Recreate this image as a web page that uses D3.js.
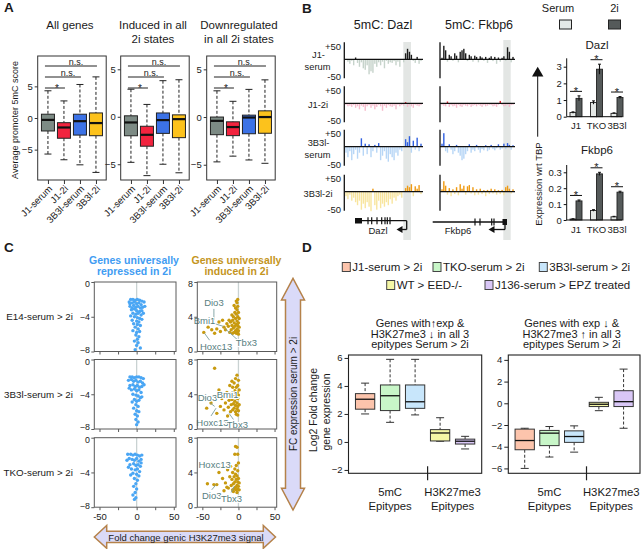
<!DOCTYPE html>
<html>
<head>
<meta charset="utf-8">
<script src="https://cdn.jsdelivr.net/npm/d3@7/dist/d3.min.js"></script>
<style>
html,body{margin:0;padding:0;background:#fff;}
svg{display:block;}
</style>
</head>
<body>
<script>
// ================= DATA =================
// Panel A : promoter 5mC score boxplots  [lowWhisker, Q1, median, Q3, highWhisker]
const groupsA = ["J1-serum","J1-2i","3B3l-serum","3B3l-2i"];
const titlesA = [["All genes"],["Induced in all","2i states"],["Downregulated","in all 2i states"]];
const statsAllGenes = [[-5.7,-2.05,-0.3,0.6,4.3],[-6.6,-3.2,-1.5,-0.74,2.7],[-7.4,-2.7,-0.5,0.6,5.3],[-8.6,-2.8,-0.8,0.8,6.5]];
const statsInduced  = [[-4.8,-2.0,-0.6,0.1,2.9],[-6.2,-3.1,-1.9,-1.0,1.3],[-5.0,-1.75,-0.35,0.4,3.8],[-5.9,-2.2,-0.25,0.2,3.9]];
const statsDownreg  = [[-4.7,-1.85,-0.4,0.0,2.75],[-4.1,-1.95,-1.05,-0.5,1.65],[-4.5,-1.75,-0.05,0.2,2.9],[-4.85,-1.7,0.0,0.65,3.9]];
const yDomainsA = [[-9.8,9.8],[-6.66,6.4],[-6.6,6.4]];
const yTicksA = [-5,0,5];
const sigA = [["n.s.",0,3],["n.s.",0,2],["*",0,1]];

// Panel B : 5mC tracks (signed CpG methylation change, -50..+50)
const trackLabels = [["J1-","serum"],["J1-2i"],["3B3l-","serum"],["3B3l-2i"]];
const dazlTracks = [
  [0,-8,-15,-5,-20,6,-12,-25,-10,-30,-35,-20,-50,-40,-45,-15,-25,-10,-20,-8,-30,-5,-15,-10,-12,-6,-20,-8,-25,0,-10,20,35,25,15,-5,-12,8,-15,-6],
  [-5,-10,-8,-12,-6,-15,-10,-20,-8,-12,-25,-10,-6,-15,-8,-20,-12,-5,-10,-25,-8,-15,-6,-10,-12,-8,-20,-5,-10,-6,-8,4,-12,-6,-10,-15,-5,-8,-10,-6],
  [-20,-35,-15,-45,-25,-10,-40,-20,28,-30,10,-25,8,-35,-15,6,-20,12,-45,-30,-15,-40,-50,-25,-35,-45,-20,-30,-10,-15,0,25,15,35,-20,20,-10,30,-15,10],
  [-15,-25,-10,-30,-20,-35,-45,-30,-60,-40,-55,-35,-50,-65,10,-45,-60,-30,-55,-40,-50,-35,-45,-25,-40,-20,-30,-15,-10,-20,0,12,20,15,25,-15,18,10,22,-8]
];
const fkbp6Tracks = [
  [5,45,30,-8,15,10,-5,20,12,-10,25,30,35,20,-6,15,10,-8,12,8,-10,10,6,-5,8,-12,5,10,-6,8,-15,6,-8,5,10,-5,40,25,-10,8],
  [-5,-8,-10,6,-12,-6,-10,-8,-15,-5,-10,-12,-6,-8,-10,-5,-12,-8,-6,-10,-5,-8,-12,-6,-10,-8,-5,-6,-10,-8,-12,-5,8,-6,-10,-8,-5,-12,-6,-5],
  [10,45,-15,-20,8,-10,-25,-15,6,-20,-30,-45,-40,-25,-15,8,-20,-10,-15,6,-10,-20,-8,-12,5,-15,-10,6,-8,-12,-5,8,-10,-6,10,-8,12,6,-10,5],
  [8,35,20,-10,12,-15,8,-8,15,-12,25,10,20,-10,18,22,-6,15,-12,8,-10,10,-8,5,-15,6,-8,10,-6,8,-10,5,-8,6,-12,15,20,10,-6,8]
];
// Panel B : qPCR expression wrt TBP
const qpcrCats = ["J1","TKO","3B3l"];
const dazlSerum = [0.25,0.85,0.2],  dazlSerumErr = [0.04,0.1,0.03];
const dazl2i    = [1.1,2.85,1.15],  dazl2iErr    = [0.15,0.3,0.06];
const fkbpSerum = [0.006,0.06,0.02], fkbpSerumErr = [0.002,0.005,0.003];
const fkbp2i    = [0.12,0.29,0.175], fkbp2iErr    = [0.006,0.01,0.006];
const dazlTicks = [0,1,2,3];
const fkbpTicks = [0,0.1,0.2,0.3];

// Panel C : FC genic H3K27me3 (x) vs FC expression (y)
const rowNamesC = ["E14-serum > 2i","3B3l-serum > 2i","TKO-serum > 2i"];
const repressedE14 = [[-8,-2.0],[-5,-2.0],[-2,-2.1],[1,-2.0],[4,-2.1],[7,-2.2],[-10,-2.3],[-6,-2.4],[-3,-2.3],[0,-2.5],[3,-2.4],[6,-2.6],[10,-2.3],[-9,-2.8],[-4,-2.7],[-1,-2.9],[2,-2.8],[5,-3.0],[8,-2.9],[-7,-3.2],[-3,-3.1],[0,-3.3],[4,-3.4],[7,-3.3],[-5,-3.6],[-1,-3.7],[2,-3.6],[6,-3.8],[-8,-3.9],[-3,-4.0],[1,-4.1],[4,-4.2],[-6,-4.4],[0,-4.5],[3,-4.6],[7,-4.3],[-4,-4.8],[1,-4.9],[5,-5.0],[-2,-5.2],[2,-5.4],[-5,-5.6],[0,-5.8],[4,-5.7],[-1,-6.1],[3,-6.3],[1,-6.6],[-3,-6.8],[2,-7.0],[0,-7.3],[5,-7.6],[-2,-7.8],[-6,-3.0],[9,-3.6],[-9,-2.5],[11,-2.8]];
const repressed3B3l = [[-9,-2.0],[-6,-2.0],[-3,-2.1],[0,-2.0],[3,-2.0],[6,-2.1],[9,-2.2],[-11,-2.4],[-7,-2.3],[-4,-2.5],[-1,-2.4],[2,-2.6],[5,-2.5],[8,-2.7],[-9,-3.0],[-5,-2.9],[-2,-3.1],[1,-3.0],[4,-3.2],[7,-3.1],[-7,-3.5],[-3,-3.4],[0,-3.6],[3,-3.5],[6,-3.8],[-5,-4.0],[-1,-4.1],[2,-4.2],[5,-4.4],[-3,-4.6],[0,-4.8],[3,-4.7],[-6,-4.9],[-1,-5.2],[2,-5.4],[-4,-5.6],[0,-5.9],[3,-6.0],[-2,-6.3],[1,-6.5],[-1,-6.9],[2,-7.2],[0,-7.5],[10,-2.9],[-10,-3.3],[7,-4.3]];
const repressedTKO = [[-12,-1.9],[-8,-1.9],[-5,-2.0],[-2,-1.9],[1,-2.0],[4,-2.1],[7,-2.0],[-13,-2.6],[-10,-2.4],[-6,-2.5],[-3,-2.6],[0,-2.4],[3,-2.7],[6,-2.5],[-9,-3.1],[-4,-3.0],[-1,-3.2],[2,-3.1],[5,-3.3],[-7,-3.6],[-2,-3.7],[1,-3.6],[4,-3.9],[-5,-4.1],[0,-4.2],[3,-4.4],[-3,-4.7],[1,-4.9],[-1,-5.3],[-4,-5.6],[0,-5.9],[-2,-6.3],[-5,-6.6],[-1,-6.9],[-3,-7.1],[6,-2.9],[-11,-3.4],[-8,-4.3]];
const inducedE14 = [[-48,2.2],[-42,2.8],[-37,2.5],[-33,2.1],[-30,2.6],[-27,3.4],[-25,2.3],[-22,3.6],[-20,2.8],[-18,2.5],[-16,3.2],[-14,2.9],[-13,3.6],[-12,2.2],[-10,2.5],[-9,3.0],[-8,2.1],[-8,3.6],[-7,2.7],[-7,4.0],[-6,2.2],[-6,3.3],[-5,2.9],[-5,4.5],[-4,2.4],[-4,3.8],[-4,5.0],[-3,2.1],[-3,3.1],[-3,4.3],[-2,2.6],[-2,3.5],[-2,4.8],[-2,5.6],[-1,2.2],[-1,3.0],[-1,4.0],[-1,5.2],[0,2.4],[0,3.3],[0,4.5],[0,2.0],[1,2.8],[1,3.8],[-9,4.2],[-11,3.4],[-6,5.3],[-3,5.8],[-1,6.0]];
const induced3B3l = [[-33,7.0],[-44,2.4],[-38,3.0],[-30,1.8],[-27,4.5],[-25,2.6],[-23,3.5],[-20,2.2],[-18,3.0],[-16,4.2],[-14,2.5],[-13,3.3],[-12,5.0],[-11,2.0],[-10,2.8],[-10,4.0],[-9,3.4],[-8,2.2],[-8,4.8],[-7,2.9],[-7,3.8],[-6,2.4],[-6,5.3],[-5,3.2],[-5,4.4],[-4,2.0],[-4,2.7],[-4,5.8],[-3,3.6],[-3,4.8],[-2,2.3],[-2,3.0],[-2,4.2],[-2,6.2],[-1,2.6],[-1,3.5],[-1,5.0],[0,2.1],[0,3.9],[0,5.6],[1,2.8],[1,4.5],[-3,1.7],[-1,1.6],[-9,5.5],[-15,1.5]];
const inducedTKO = [[-4,7.0],[-2,6.9],[-5,6.1],[-1,6.1],[0,5.1],[-43,2.7],[-34,2.6],[-30,2.6],[-27,4.0],[-22,3.3],[-20,1.9],[-18,2.8],[-15,4.3],[-14,2.2],[-12,3.5],[-11,4.7],[-10,2.5],[-9,3.2],[-8,2.0],[-8,4.0],[-7,2.7],[-6,3.5],[-6,2.1],[-5,4.4],[-5,2.9],[-4,2.3],[-4,3.8],[-3,2.0],[-3,3.2],[-3,4.8],[-2,2.5],[-2,3.6],[-1,2.1],[-1,2.9],[-1,4.2],[0,2.4],[0,3.3],[1,2.0],[1,2.8],[-7,1.8],[-2,1.7],[-16,2.3]];
// gene call-outs: text at (tx,ty), leader from (x1,y1) to (x2,y2) in data units
const geneLabelsC = [
  [{gene:"Dio3",tx:-34,ty:5.6,x1:-34,y1:4.9,x2:-34,y2:3.6},{gene:"Bmi1",tx:-47,ty:3.6,x1:-37,y1:3.3,x2:-21,y2:2.9},{gene:"Hoxc13",tx:-31,ty:0.55,x1:-40,y1:1.3,x2:-47,y2:2.1},{gene:"Tbx3",tx:11,ty:1.0,x1:-2,y1:1.4,x2:-18,y2:2.6}],
  [{gene:"Dio3",tx:-43,ty:3.6,x1:-39,y1:3.0,x2:-33,y2:2.6},{gene:"Bmi1",tx:-15,ty:3.9},{gene:"Hoxc13",tx:-36,ty:0.75,x1:-38,y1:1.5,x2:-31,y2:2.4},{gene:"Tbx3",tx:-1.5,ty:0.45,x1:-7,y1:1.1,x2:-13,y2:1.8}],
  [{gene:"Hoxc13",tx:-33,ty:4.85,x1:-22,y1:4.6,x2:-11,y2:4.7},{gene:"Dio3",tx:-37,ty:1.3,x1:-37,y1:2.0,x2:-31,y2:2.6},{gene:"Tbx3",tx:-9.5,ty:1.0,x1:-10,y1:1.7,x2:-6,y2:2.4}]
];
const xTicksC = [-50,-25,0,25,50];
const xTickLabelsC = [-50,0,50];

// Panel D : Log2 fold change gene expression
const legendD = ["J1-serum > 2i","TKO-serum > 2i","3B3l-serum > 2i","WT > EED-/-","J136-serum > EPZ treated"];
const statsUpD   = [[2.0,2.34,3.05,3.45,4.2],[1.4,2.24,3.3,4.07,5.9],[1.93,2.4,2.87,4.07,5.9],[0.05,0.07,0.64,0.88,1.73],[-0.5,-0.15,0.05,0.2,0.4]];
const statsDownD = [[-6.0,-4.28,-3.43,-2.38,-2.3],[-4.95,-3.9,-2.75,-2.5,-2.14],[-4.5,-3.6,-3.06,-2.54,-2.08],[-0.68,-0.3,-0.09,0.09,0.55],[-2.3,-0.3,0.15,1.16,3.15]];
const titleUpD   = ["Genes with\u2191exp &","H3K27me3 \u2193 in all 3","epitypes Serum > 2i"];
const titleDownD = ["Genes with exp \u2193 &","H3K27me3 \u2191  in all 3","epitypes Serum > 2i"];
const ticksUpD = [-2,0,2,4,6], ticksDownD = [-6,-4,-2,0,2,4];
const domainUpD = [-2.24,6.21], domainDownD = [-6.45,4.45];

// ================= STYLE =================
const FONT = '"Liberation Sans", Arial, Helvetica, sans-serif';
const colorsA = ["#7d8b85","#f2243f","#3c72e6","#fcc21c"];
const trackPos = ["#1c1c1c","#e3202c","#2f5fe0","#ef9a12"];
const trackNeg = ["#c6d3cb","#f6bccd","#b7d6f6","#f8e59e"];
const colorsD = ["#fcc4ac","#c8f6c8","#c8e6fb","#f5f7a6","#d9c7f6"];

// ================= HELPERS =================
const svg = d3.select("body").append("svg").attr("width",643).attr("height",549).attr("font-family",FONT);
function T(g,x,y,s,o={}){
  const t=g.append("text").attr("x",x).attr("y",y).text(s)
    .attr("font-size",o.size||10).attr("fill",o.fill||"#1a1a1a")
    .attr("text-anchor",o.anchor||"middle").attr("font-family",FONT);
  if(o.weight) t.attr("font-weight",o.weight);
  if(o.rot!=null) t.attr("transform",`rotate(${o.rot},${x},${y})`);
  if(o.halo) t.attr("stroke","#fff").attr("stroke-width",o.halo).attr("paint-order","stroke");
  return t;
}
function L(g,x1,y1,x2,y2,stroke,w,dash){
  const l=g.append("line").attr("x1",x1).attr("y1",y1).attr("x2",x2).attr("y2",y2)
    .attr("stroke",stroke||"#222").attr("stroke-width",w||1);
  if(dash) l.attr("stroke-dasharray",dash);
  return l;
}
function styleAxis(a,size,color){
  a.attr("font-family",FONT).attr("font-size",size);
  a.selectAll("text").attr("fill","#1a1a1a");
  a.selectAll("line").attr("stroke",color||"#333");
  a.select(".domain").remove();
  return a;
}
function drawBox(g,cx,s,y,bw,capW,fill,medW,stroke){
  const st=stroke||"#222";
  L(g,cx,y(s[4]),cx,y(s[3]),st,1,"3,2");
  L(g,cx,y(s[1]),cx,y(s[0]),st,1,"3,2");
  [s[0],s[4]].forEach(v=>L(g,cx-capW/2,y(v),cx+capW/2,y(v),st,1));
  g.append("rect").attr("x",cx-bw/2).attr("y",y(s[3])).attr("width",bw)
    .attr("height",Math.max(0.5,y(s[1])-y(s[3]))).attr("fill",fill).attr("stroke",st).attr("stroke-width",1);
  L(g,cx-bw/2,y(s[2]),cx+bw/2,y(s[2]),"#111",medW);
}

// Panel letters
T(svg,4,12,"A",{size:13.5,weight:"bold",anchor:"start"});
T(svg,302,12.5,"B",{size:13.5,weight:"bold",anchor:"start"});
T(svg,4,252,"C",{size:13.5,weight:"bold",anchor:"start"});
T(svg,302,252,"D",{size:13.5,weight:"bold",anchor:"start"});

// ================= PANEL A =================
(function(){
  const g=svg.append("g");
  const statsA=[statsAllGenes,statsInduced,statsDownreg];
  const lefts=[37.7,120.7,206.7], fw=68.5, top=56, bot=180, sigY=[66,77,88];
  statsA.forEach((stats,k)=>{
    const x0=lefts[k], x1=x0+fw;
    const y=d3.scaleLinear().domain(yDomainsA[k]).range([bot,top]);
    const x=d3.scalePoint().domain(groupsA).range([x0,x1]).padding(0.64);
    titlesA[k].forEach((t,j)=>T(g,(x0+x1)/2-2,29+j*13.5,t,{size:11.5}));
    g.append("rect").attr("x",x0).attr("y",top).attr("width",fw).attr("height",bot-top)
      .attr("fill","none").attr("stroke","#333");
    styleAxis(g.append("g").attr("transform",`translate(${x0},0)`)
      .call(d3.axisLeft(y).tickValues(yTicksA).tickSize(3).tickPadding(2)),9.5);
    styleAxis(g.append("g").attr("transform",`translate(0,${bot})`)
      .call(d3.axisBottom(x).tickSize(4).tickFormat("")),9);
    groupsA.forEach(gr=>{
      g.append("text").attr("transform",`translate(${x(gr)+2.5},${bot+7}) rotate(-45)`)
        .attr("text-anchor","end").attr("dy","0.35em").attr("font-size",9.5)
        .attr("font-family",FONT).attr("fill","#1a1a1a").text(gr);
    });
    stats.forEach((s,i)=>drawBox(g,x(groupsA[i]),s,y,13,7,colorsA[i],2.2));
    sigA.forEach((sg,j)=>{
      const a=x(groupsA[sg[1]]), b=x(groupsA[sg[2]]), yy=sigY[j];
      L(g,a-3,yy,b+1,yy,"#222",1);
      if(sg[0]==="*") T(g,(a+b)/2+1,yy+4,"*",{size:10});
      else T(g,(a+b)/2+4,yy-1.5,sg[0],{size:9});
    });
  });
  g.append("text").attr("transform","translate(18,120) rotate(-90)").attr("text-anchor","middle")
    .attr("font-size",9).attr("font-family",FONT).attr("fill","#1a1a1a").text("Average promoter 5mC score");
})();

// ================= PANEL B =================
(function(){
  const g=svg.append("g");
  const rangeX=[[346,421],[442,513]], axisX=[344.3,440];
  const base=[59.3,103.3,146.7,191.7];
  g.append("rect").attr("x",403.3).attr("y",42).attr("width",7.7).attr("height",198).attr("fill","#e3e6e4");
  g.append("rect").attr("x",503.3).attr("y",40).attr("width",7.4).attr("height",200).attr("fill","#e3e6e4");
  T(g,383,29,"5mC: Dazl",{size:12.5});
  T(g,479,29,"5mC: Fkbp6",{size:12.5});
  [dazlTracks,fkbp6Tracks].forEach((tracks,gi)=>{
    const x=d3.scaleLinear().domain([0,tracks[0].length-1]).range(rangeX[gi]);
    tracks.forEach((vals,ri)=>{
      const b=base[ri];
      const y=d3.scaleLinear().domain([-50,50]).range([b+15,b-15]);
      g.selectAll(null).data(vals.map((v,i)=>({v,i})).filter(d=>d.v!==0)).enter().append("rect")
        .attr("x",d=>x(d.i)-0.7).attr("width",1.4)
        .attr("y",d=>Math.min(y(d.v),y(0))).attr("height",d=>Math.abs(y(d.v)-y(0)))
        .attr("fill",d=>d.v>0?trackPos[ri]:trackNeg[ri]);
      L(g,axisX[gi],b-17,axisX[gi],b+19,"#111",1.3);
      L(g,axisX[gi],y(0),rangeX[gi][1]+2,y(0),"#111",1.3);
      if(gi===0){
        T(g,341,y(50)+5.5,"+50",{size:9.5,anchor:"end"});
        T(g,341,y(-50)+6,"-50",{size:9.5,anchor:"end"});
      }
    });
  });
  trackLabels.forEach((ls,ri)=>{
    if(ls.length===2){ T(g,318.5,base[ri]-1,ls[0],{size:9.3}); T(g,317.5,base[ri]+10.8,ls[1],{size:9.3}); }
    else T(g,318,base[ri]+5,ls[0],{size:9.3});
  });
  // gene models
  const gm=g.append("g");
  // Dazl
  L(gm,355,220.7,406.7,220.7,"#111",1.3);
  gm.append("rect").attr("x",355).attr("y",218).attr("width",7).attr("height",5.5).attr("fill","#111");
  [368,371.7,377,381.7,385,387.3,390].forEach(xx=>L(gm,xx,217.2,xx,224.2,"#111",1.2));
  L(gm,406.7,220.7,406.7,229.5,"#111",1.3);
  L(gm,406.7,229.5,401,229.5,"#111",1.3);
  gm.append("path").attr("d","M396.5,229.5 L402.5,226 L402.5,233 Z").attr("fill","#111");
  T(gm,378,234,"Dazl",{size:9.5});
  // Fkbp6
  L(gm,432.7,222,505,222,"#111",1.3);
  [475,480,491.7,494].forEach(xx=>L(gm,xx,218.5,xx,225.5,"#111",1.2));
  gm.append("rect").attr("x",502.5).attr("y",219).attr("width",4.5).attr("height",6).attr("fill","#111");
  L(gm,505,222,505,229.5,"#111",1.3);
  L(gm,505,229.5,494,229.5,"#111",1.3);
  gm.append("path").attr("d","M488.5,229.5 L494.5,226 L494.5,233 Z").attr("fill","#111");
  T(gm,458,234,"Fkbp6",{size:9.5});

  // qPCR legend
  T(g,558,12,"Serum",{size:11});
  T(g,614.5,12,"2i",{size:11});
  g.append("rect").attr("x",559.5).attr("y",20).attr("width",12).attr("height",9).attr("fill","#e4e8e6").attr("stroke","#222");
  g.append("rect").attr("x",608.5).attr("y",20).attr("width",12).attr("height",9).attr("fill","#555a5a").attr("stroke","#222");
  // arrow + label
  L(g,537.7,75,537.7,136.7,"#111",1);
  g.append("path").attr("d","M537.7,66.7 L532,76.5 L543.4,76.5 Z").attr("fill","#111");
  g.append("text").attr("transform","translate(541.5,184) rotate(-90)").attr("text-anchor","middle")
    .attr("font-size",9.5).attr("font-family",FONT).attr("fill","#1a1a1a").text("Expression wrt TBP");

  const qx=d3.scalePoint().domain(qpcrCats).range([576,617]);
  const charts=[
    {title:"Dazl",ty:49,y:d3.scaleLinear().domain([0,3]).range([116.7,66.7]),top:58.3,ticks:dazlTicks,fmt:d3.format("d"),
     s:dazlSerum,se:dazlSerumErr,t:dazl2i,te:dazl2iErr},
    {title:"Fkbp6",ty:154,y:d3.scaleLinear().domain([0,0.3]).range([220,172.3]),top:165,ticks:fkbpTicks,fmt:d=>d===0?"0":d3.format(".1f")(d),
     s:fkbpSerum,se:fkbpSerumErr,t:fkbp2i,te:fkbp2iErr}
  ];
  charts.forEach(c=>{
    T(g,597,c.ty,c.title,{size:11.5});
    const y=c.y, y0=y(0);
    qpcrCats.forEach((cat,i)=>{
      const cx=qx(cat);
      g.append("rect").attr("x",cx-6).attr("y",y(c.s[i])).attr("width",6).attr("height",y0-y(c.s[i]))
        .attr("fill","#e4e8e6").attr("stroke","#222").attr("stroke-width",0.9);
      g.append("rect").attr("x",cx).attr("y",y(c.t[i])).attr("width",6).attr("height",y0-y(c.t[i]))
        .attr("fill","#555a5a").attr("stroke","#222").attr("stroke-width",0.9);
      L(g,cx-3,y(c.s[i]-c.se[i]),cx-3,y(c.s[i]+c.se[i]),"#111",1.1);
      L(g,cx-4.5,y(c.s[i]+c.se[i]),cx-1.5,y(c.s[i]+c.se[i]),"#111",1);
      L(g,cx+3,y(c.t[i]-c.te[i]),cx+3,y(c.t[i]+c.te[i]),"#111",1.1);
      L(g,cx+1.5,y(c.t[i]+c.te[i]),cx+4.5,y(c.t[i]+c.te[i]),"#111",1);
      const sy=y(c.t[i]+c.te[i])-4.5;
      L(g,cx-6,sy,cx+6,sy,"#111",1);
      T(g,cx,sy+3.5,"*",{size:11});
      T(g,cx,y0+12.5,cat,{size:9.5});
    });
    L(g,566.7,c.top,566.7,y0,"#111",1);
    L(g,566.7,y0,622,y0,"#111",1);
    styleAxis(g.append("g").attr("transform","translate(566.7,0)")
      .call(d3.axisLeft(y).tickValues(c.ticks).tickFormat(c.fmt).tickSize(3).tickPadding(2)),9.5,"#111");
  });
})();

// ================= PANEL C =================
(function(){
  const g=svg.append("g");
  T(g,134,263.5,"Genes universally",{size:10.5,weight:"bold",fill:"#3f9cf2"});
  T(g,134,275,"repressed in 2i",{size:10.5,weight:"bold",fill:"#3f9cf2"});
  T(g,236.5,263.5,"Genes universally",{size:10.5,weight:"bold",fill:"#c4951d"});
  T(g,236.5,275,"induced in 2i",{size:10.5,weight:"bold",fill:"#c4951d"});
  const tops=[282,359.5,437.7], h=69.5;
  const leftX=[94.3,176], rightX=[197.3,276.7];
  const rep=[repressedE14,repressed3B3l,repressedTKO];
  const ind=[inducedE14,induced3B3l,inducedTKO];
  rowNamesC.forEach((name,ri)=>{
    const top=tops[ri], bot=top+h;
    T(g,73,(top+bot)/2+3.5,name,{size:9.8,anchor:"end"});
    [[leftX,[-8,0],[-8,-4,0],rep[ri],"#4aa6f4"],[rightX,[0,8],[0,4,8],ind[ri],"#c89a0f"]].forEach((p,pi)=>{
      const x=d3.scaleLinear().domain([-57,53]).range(p[0]);
      const y=d3.scaleLinear().domain(p[1]).range([bot,top]);
      L(g,x(0),top,x(0),bot,"#c9d2d2",1.3);
      g.selectAll(null).data(p[3]).enter().append("circle")
        .attr("cx",d=>x(d[0])).attr("cy",d=>y(d[1])).attr("r",1.7).attr("fill",p[4]);
      if(pi===1){
        geneLabelsC[ri].forEach(lb=>{
          if(lb.x1!==undefined) L(g,x(lb.x1),y(lb.y1),x(lb.x2),y(lb.y2),"#7c9e9e",0.9);
          T(g,x(lb.tx),y(lb.ty)+3.3,lb.gene,{size:9.5,fill:"#58807f",halo:2});
        });
      }
      g.append("rect").attr("x",p[0][0]).attr("y",top).attr("width",p[0][1]-p[0][0]).attr("height",h)
        .attr("fill","none").attr("stroke","#5a5a5a").attr("stroke-width",1);
      const ya=g.append("g").attr("transform",`translate(${p[0][0]},0)`)
        .call(d3.axisLeft(y).tickValues(p[2]).tickSize(3).tickPadding(1.5));
      styleAxis(ya,8.8,"#5a5a5a");
      ya.selectAll(".tick text").attr("dy",d=>{
        const v=+d; const edgeTop=(v===p[1][1]), edgeBot=(v===p[1][0]);
        return edgeTop?"0.55em":(edgeBot?"0.1em":"0.32em");
      });
      styleAxis(g.append("g").attr("transform",`translate(0,${bot})`)
        .call(d3.axisBottom(x).tickValues(xTicksC).tickSize(3)
          .tickFormat(d=>(ri===2&&xTickLabelsC.includes(d))?d:"")),9.5,"#5a5a5a");
    });
  });
  // vertical arrow
  g.append("path").attr("d","M293,278.3 L304.5,300 L300.5,300 L300.5,488.3 L304.5,488.3 L293,510 L281.5,488.3 L285.5,488.3 L285.5,300 L281.5,300 Z")
    .attr("fill","#dadaf8").attr("stroke","#b5824a").attr("stroke-width",1.5);
  g.append("text").attr("transform","translate(296.5,394) rotate(-90)").attr("text-anchor","middle")
    .attr("font-size",10).attr("font-family",FONT).attr("fill","#1a1a1a").text("FC expression serum > 2i");
  // horizontal arrow
  g.append("path").attr("d","M94.3,537 L106.7,525.5 L106.7,531.3 L263.3,531.3 L263.3,525.5 L275.5,537 L263.3,548.3 L263.3,542.5 L106.7,542.5 L106.7,548.3 Z")
    .attr("fill","#dadaf8").attr("stroke","#b5824a").attr("stroke-width",1.5);
  T(g,186,540.5,"Fold change genic H3K27me3 signal",{size:9.5});
})();

// ================= PANEL D =================
(function(){
  const g=svg.append("g");
  const legX=[342.3,433,539.3,386.7,485], legRow=[0,0,0,1,1], legY=[267,285];
  legendD.forEach((lab,i)=>{
    const yy=legY[legRow[i]];
    g.append("rect").attr("x",legX[i]).attr("y",yy-4.5).attr("width",8).attr("height",9)
      .attr("fill",colorsD[i]).attr("stroke","#444");
    T(g,legX[i]+10,yy+4,lab,{size:11.5,anchor:"start"});
  });
  const top=355, bot=473.3;
  const plots=[
    {x0:348.5,x1:481.7,dom:domainUpD,ticks:ticksUpD,stats:statsUpD,title:titleUpD,tcx:420},
    {x0:508.3,x1:640,dom:domainDownD,ticks:ticksDownD,stats:statsDownD,title:titleDownD,tcx:571.7}
  ];
  plots.forEach(p=>{
    p.title.forEach((t,j)=>T(g,p.tcx,327+j*10.5,t,{size:11}));
    const y=d3.scaleLinear().domain(p.dom).range([bot,top]);
    const x=d3.scalePoint().domain(legendD).range([p.x0,p.x1]).padding(0.664);
    p.stats.forEach((s,i)=>drawBox(g,x(legendD[i]),s,y,19.3,8,colorsD[i],1.3,"#333"));
    g.append("rect").attr("x",p.x0).attr("y",top).attr("width",p.x1-p.x0).attr("height",bot-top)
      .attr("fill","none").attr("stroke","#222").attr("stroke-width",1.1);
    styleAxis(g.append("g").attr("transform",`translate(${p.x0},0)`)
      .call(d3.axisLeft(y).tickValues(p.ticks).tickSize(4).tickPadding(2)),9.5,"#222");
    const sep=(x(legendD[2])+x(legendD[3]))/2;
    L(g,sep,bot-7,sep,bot+7,"#222",1.2);
    const c1=x(legendD[1]), c2=(x(legendD[3])+x(legendD[4]))/2;
    T(g,c1,496,"5mC",{size:11.3}); T(g,c1,509.5,"Epitypes",{size:11.3});
    T(g,c2,496,"H3K27me3",{size:11.3}); T(g,c2,509.5,"Epitypes",{size:11.3});
  });
  g.append("text").attr("transform","translate(316.5,410) rotate(-90)").attr("text-anchor","middle")
    .attr("font-size",10.5).attr("font-family",FONT).attr("fill","#1a1a1a").text("Log2 Fold change");
  g.append("text").attr("transform","translate(329.5,412) rotate(-90)").attr("text-anchor","middle")
    .attr("font-size",10.5).attr("font-family",FONT).attr("fill","#1a1a1a").text("gene expression");
})();
</script>
</body>
</html>
